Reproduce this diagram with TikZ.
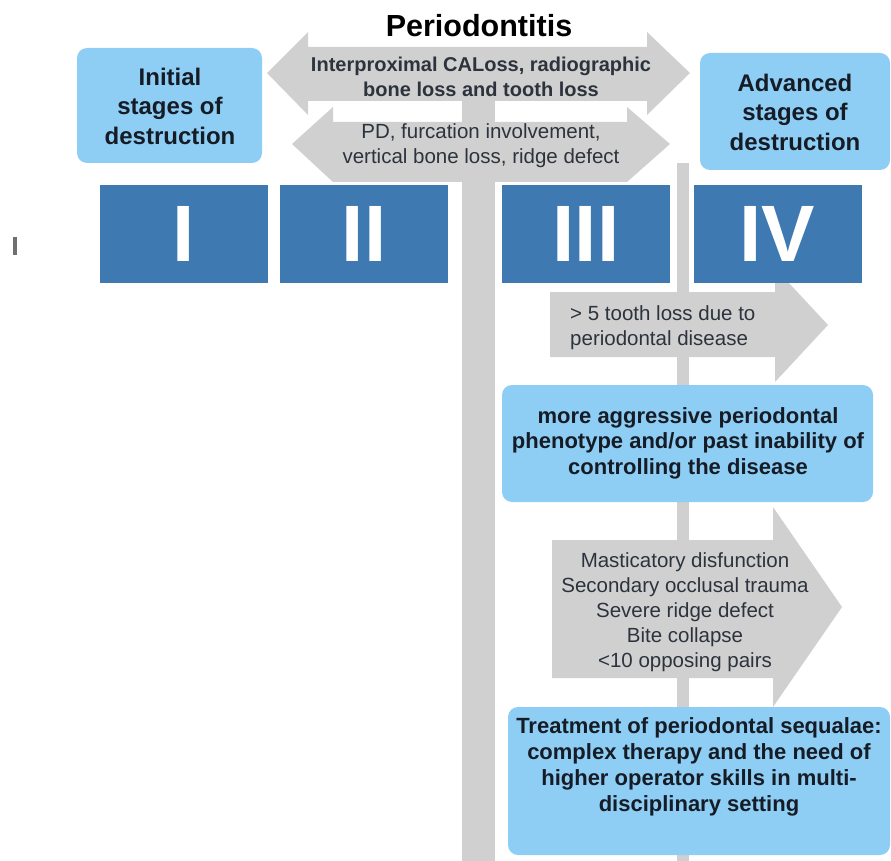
\documentclass[tikz,border=0pt]{standalone}
\usepackage{fontspec}
\setmainfont{Liberation Sans}
\definecolor{barGray}{RGB}{208,208,208}
\definecolor{stageBlue}{RGB}{62,122,177}
\definecolor{infoBlue}{RGB}{142,206,245}
\definecolor{inkDark}{RGB}{22,28,38}
\definecolor{markGray}{RGB}{112,112,112}
\tikzset{
  stagebox/.style={fill=stageBlue,draw=none,minimum width=168pt,minimum height=98pt,inner sep=0pt,
    text=white,font=\fontsize{80}{80}\selectfont\bfseries},
  infobox/.style={fill=infoBlue,draw=none,rounded corners=10pt},
  infotext/.style={align=center,text=inkDark,inner sep=0pt},
  arrowtext/.style={align=center,text=inkDark!90,inner sep=0pt,font=\fontsize{20.5}{25}\selectfont},
}
\begin{document}
\begin{tikzpicture}[x=1pt,y=-1pt]
  \useasboundingbox (0,0) rectangle (891,861);
  % gray bars
  \fill[barGray] (462,100) rectangle (495,861);
  \fill[barGray] (677,163) rectangle (689,861);
  % double arrows
  \fill[barGray] (267,73) -- (308,32) -- (308,47) -- (647,47) -- (647,32) -- (690,73)
    -- (647,115) -- (647,101) -- (308,101) -- (308,115) -- cycle;
  \fill[barGray] (292,144) -- (333,107) -- (333,122) -- (627,122) -- (627,107) -- (670,144)
    -- (627,182) -- (333,182) -- cycle;
  % right arrows
  \fill[barGray] (550,292) -- (775,292) -- (775,268) -- (828,325) -- (775,382) -- (775,357)
    -- (550,357) -- cycle;
  \fill[barGray] (552,540) -- (773,540) -- (773,507) -- (842,607) -- (773,707) -- (773,678)
    -- (552,678) -- cycle;
  % stages
  \node[stagebox] (stI) at (184,234) {I};
  \node[stagebox] (stII) at (364,234) {II};
  \node[stagebox] (stIII) at (586,234) {III};
  \node[stagebox] (stIV) at (777.5,234) {IV};
  % boxes
  \fill[infobox] (77,48) rectangle (262,163);
  \fill[infobox] (700,53) rectangle (890,170);
  \fill[infobox] (502,385) rectangle (873,502);
  \fill[infobox] (508,707) rectangle (890,855);
  \fill[markGray] (13,237) rectangle (17,255);
  % texts
  \node[font=\fontsize{30.5}{34}\selectfont\bfseries,text=black] (title) at (479,26) {Periodontitis};
  \node[infotext,font=\fontsize{24}{29.5}\selectfont\bfseries] (initial) at (170,106)
    {Initial\\stages of\\destruction};
  \node[infotext,font=\fontsize{24}{29.5}\selectfont\bfseries] (advanced) at (795,112)
    {Advanced\\stages of\\destruction};
  \node[arrowtext,font=\fontsize{20}{25}\selectfont\bfseries] (calloss) at (481,77)
    {Interproximal CALoss, radiographic\\bone loss and tooth loss};
  \node[arrowtext] (pdloss) at (481,146)
    {PD, furcation involvement,\\vertical bone loss, ridge defect};
  \node[arrowtext,align=left,anchor=west] (toothloss) at (570,328)
    {> 5 tooth loss due to\\periodontal disease};
  \node[infotext,font=\fontsize{22}{25.5}\selectfont\bfseries] (pheno) at (688,443)
    {more aggressive periodontal\\phenotype and/or past inability of\\controlling the disease};
  \node[arrowtext] (mastic) at (685,612)
    {Masticatory disfunction\\Secondary occlusal trauma\\Severe ridge defect\\Bite collapse\\<10 opposing pairs};
  \node[infotext,font=\fontsize{22}{26}\selectfont\bfseries] (treat) at (699,767)
    {Treatment of periodontal sequalae:\\complex therapy and the need of\\higher operator skills in multi-\\disciplinary setting};
\end{tikzpicture}
\end{document}
